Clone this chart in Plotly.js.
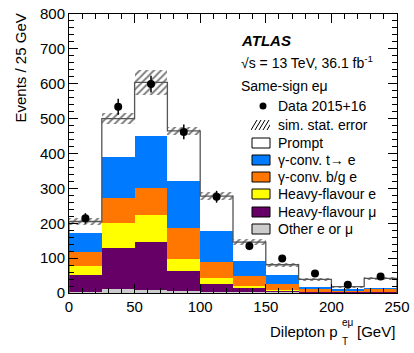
<!DOCTYPE html>
<html><head><meta charset="utf-8">
<script src="https://cdn.plot.ly/plotly-3.0.1.min.js"></script>
<style>html,body{margin:0;padding:0;background:#fff}</style></head>
<body>
<div id="chart" style="width:414px;height:353px"></div>
<script>
// ---- data ----
const binLow   = [0,25,50,75,100,125,150,175,200,225];
const binWidth = 25;
const other    = [2,12,9,7,4,3,2,1,1,1];          // Other e or mu
const hfMu     = [49,116,138,57,23,11,4,2,1,2];    // Heavy-flavour mu
const hfE      = [27,73,76,33,15,6,3,1,1,1];       // Heavy-flavour e
const convBG   = [40,71,77,90,48,29,17,7,4,7];     // gamma-conv. b/g e
const convT    = [53,117,150,134,89,43,25,7,4,4];  // gamma-conv. t -> e
const prompt   = [34,111,154,144,99,54,30,21,7,27];// Prompt
const simErr   = [10,15,35,12,11,8,6,4,3,4];       // sim. stat. error
const dataVals = [214,534,599,462,276,135,99,56,24,47];
const dataErr  = [15,23,24,21,17,12,10,7,5,7];
const xTicks   = [0,50,100,150,200,250];
const yTicks   = [0,100,200,300,400,500,600,700,800];

// ---- build ----
const centers = binLow.map(v => v + binWidth/2);
const comps = [other, hfMu, hfE, convBG, convT, prompt];
const colors = ['rgb(204,204,204)','rgb(102,0,102)','rgb(255,255,0)','rgb(255,119,0)','rgb(0,122,255)','#ffffff'];
const cum = [];
let run = binLow.map(() => 0);
comps.forEach(c => { run = run.map((v,i) => v + c[i]); cum.push(run.slice()); });
const total = cum[cum.length-1];

const FONT = 'Liberation Sans, Arial, Helvetica, sans-serif';
const traces = [];
for (let k = comps.length-1; k >= 0; k--) {
  traces.push({type:'bar', x:centers, y:cum[k], width:binWidth,
    marker:{color:colors[k], line:{width:0}}, hoverinfo:'skip', showlegend:false});
}
// outline of the total
const sx=[0], sy=[0];
binLow.forEach((lo,i) => { sx.push(lo, lo+binWidth); sy.push(total[i], total[i]); });
sx.push(binLow[binLow.length-1]+binWidth); sy.push(0);
traces.push({type:'scatter', mode:'lines', x:sx, y:sy, line:{color:'#555', width:1.3}, hoverinfo:'skip', showlegend:false});
// hatched sim stat error
traces.push({type:'bar', x:centers, base:total.map((t,i)=>t-simErr[i]), y:simErr.map(e=>2*e), width:binWidth,
  marker:{color:'rgba(0,0,0,0)', line:{width:0},
    pattern:{shape:'/', fgcolor:'#000', bgcolor:'rgba(0,0,0,0)', size:5, solidity:0.4, fillmode:'overlay'}},
  hoverinfo:'skip', showlegend:false});
// data
traces.push({type:'scatter', mode:'markers', x:centers, y:dataVals,
  marker:{color:'#000', size:8},
  error_y:{type:'data', array:dataErr, visible:true, color:'#000', thickness:1.5, width:0},
  showlegend:false});

// pixel helpers for the plot area
const L=69, R=397, T=14, B=293;
const px = p => (p-L)/(R-L);
const py = p => (B-p)/(B-T);

const ann = [];
const shapes = [];
function txt(text, x, y, size, opts) {
  ann.push(Object.assign({text, xref:'paper', yref:'paper', x:px(x), y:py(y), xanchor:'left', yanchor:'middle',
    showarrow:false, font:{family:FONT, size, color:'#000'}}, opts||{}));
}
txt('<b><i>ATLAS</i></b>', 239, 40, 15);
txt('√s = 13 TeV, 36.1 fb<sup>-1</sup>', 239, 62, 14);
txt('Same-sign eμ', 239, 86, 14);
const legX = 276;
const rows = [
  ['Data 2015+16', 106, 'data'],
  ['sim. stat. error', 125, 'hatch'],
  ['Prompt', 143, colors[5]],
  ['γ-conv. t→ e', 160, colors[4]],
  ['γ-conv. b/g e', 177, colors[3]],
  ['Heavy-flavour e', 194, colors[2]],
  ['Heavy-flavour μ', 212, colors[1]],
  ['Other e or μ', 229, colors[0]]
];
rows.forEach(([t,y,c]) => {
  txt(t, legX, y, 14);
  if (c === 'data') {
    shapes.push({type:'circle', xref:'paper', yref:'paper', x0:px(259.5), x1:px(266.5), y0:py(y+3.5), y1:py(y-3.5),
      fillcolor:'#000', line:{width:0}});
  } else if (c === 'hatch') {
    for (let k=0;k<5;k++) {
      const x0 = 251 + k*4;
      shapes.push({type:'line', xref:'paper', yref:'paper', x0:px(x0), y0:py(y+5), x1:px(x0+6), y1:py(y-5), line:{color:'#000', width:1}});
    }
    shapes.push({type:'rect', xref:'paper', yref:'paper', x0:px(250), x1:px(251), y0:py(y+6), y1:py(y-6), fillcolor:'#fff', line:{width:0}});
    shapes.push({type:'rect', xref:'paper', yref:'paper', x0:px(270), x1:px(276), y0:py(y+6), y1:py(y-6), fillcolor:'#fff', line:{width:0}});
  } else {
    shapes.push({type:'rect', xref:'paper', yref:'paper', x0:px(252), x1:px(270), y0:py(y+5), y1:py(y-5),
      fillcolor:c, line:{color:'#000', width:1}});
  }
});
// axis titles
ann.push({text:'Events / 25 GeV', xref:'paper', yref:'paper', x:px(20), y:py(12), xanchor:'center', yanchor:'top',
  textangle:-90, showarrow:false, font:{family:FONT, size:15, color:'#000'}});
txt('Dilepton p', 340, 331, 15, {xanchor:'right'});
txt('eμ', 340, 322, 10);
txt('T', 340, 341, 10);
txt('[GeV]', 397, 331, 15, {xanchor:'right'});

const axisCommon = {showgrid:false, zeroline:false, showline:true, linecolor:'#000', linewidth:1,
  mirror:'allticks', ticks:'inside', ticklen:9, tickwidth:1, tickcolor:'#000',
  tickfont:{family:FONT, size:15, color:'#000'}, fixedrange:true};
const layout = {
  width:414, height:353,
  margin:{l:L, r:414-R, t:T, b:353-B},
  paper_bgcolor:'#fff', plot_bgcolor:'#fff',
  barmode:'overlay', bargap:0,
  showlegend:false,
  xaxis:Object.assign({}, axisCommon, {range:[0,250], tickvals:xTicks, ticktext:xTicks.map(String),
    minor:{dtick:10, tick0:0, ticks:'inside', ticklen:5, tickcolor:'#000', tickwidth:1, showgrid:false}}),
  yaxis:Object.assign({}, axisCommon, {range:[0,800], tickvals:yTicks, ticktext:yTicks.map(String),
    minor:{dtick:20, tick0:0, ticks:'inside', ticklen:5, tickcolor:'#000', tickwidth:1, showgrid:false}}),
  annotations:ann, shapes:shapes
};
Plotly.newPlot('chart', traces, layout, {staticPlot:true, displayModeBar:false});
</script>
</body></html>
